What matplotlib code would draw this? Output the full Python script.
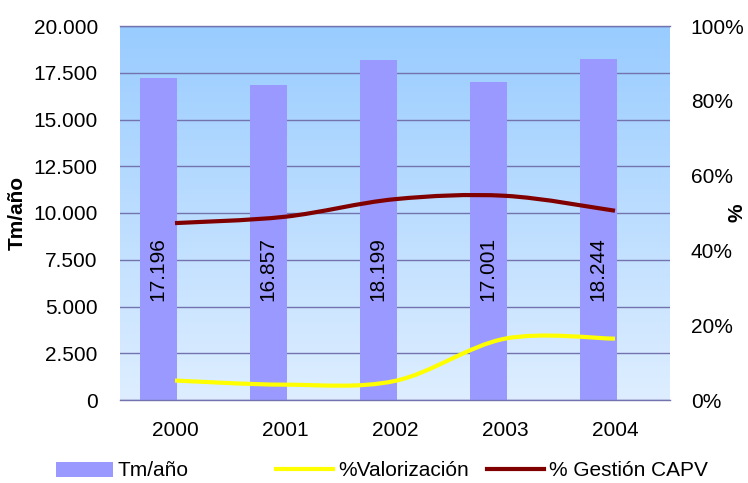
import numpy as np
import matplotlib
matplotlib.use("Agg")
import matplotlib.pyplot as plt
from matplotlib.path import Path
from matplotlib.patches import PathPatch, Patch
from matplotlib.lines import Line2D

plt.rcParams['font.family'] = ['Liberation Sans', 'DejaVu Sans']

# ---- data ----
years = ["2000", "2001", "2002", "2003", "2004"]
tm_ano = [17196, 16857, 18199, 17001, 18244]
tm_labels = ["17.196", "16.857", "18.199", "17.001", "18.244"]
pct_valorizacion = [0.052, 0.041, 0.051, 0.164, 0.164]
pct_gestion = [0.473, 0.490, 0.537, 0.546, 0.506]
left_ticks = [0, 2500, 5000, 7500, 10000, 12500, 15000, 17500, 20000]
left_ticklabels = ["0", "2.500", "5.000", "7.500", "10.000", "12.500", "15.000", "17.500", "20.000"]
right_ticks = [0, 0.2, 0.4, 0.6, 0.8, 1.0]
right_ticklabels = ["0%", "20%", "40%", "60%", "80%", "100%"]

BAR_C = '#9999FF'
GRID_C = '#7373AE'
FS = 15

fig = plt.figure(figsize=(7.48, 4.83), dpi=100)
ax = fig.add_axes([120/748, 83/483, 550/748, 374/483])
ax2 = ax.twinx()

x = np.arange(len(years))

# gradient background
grad = np.linspace(0, 1, 256).reshape(-1, 1)
top = np.array([153, 204, 255]) / 255
bot = np.array([222, 238, 255]) / 255
img = bot[None, None, :] * (1 - grad[:, :, None]) + top[None, None, :] * grad[:, :, None]
ax.imshow(img, extent=[0, 1, 0, 1], transform=ax.transAxes, origin='lower',
          aspect='auto', zorder=-10)

ax.bar(x - 0.32, tm_ano, width=0.335, align='edge', color=BAR_C, zorder=2)
for xi, lab in zip(x, tm_labels):
    ax.text(xi - 0.32 + 0.335 / 2, 7000, lab, rotation=90, ha='center', va='center',
            fontsize=FS, color='black', zorder=3)

ax.set_xlim(-0.5, len(years) - 0.5)
ax.set_ylim(0, 20000)
ax.set_yticks(left_ticks)
ax.set_yticklabels(left_ticklabels)
ax.set_xticks(x)
ax.set_xticklabels(years)
ax.grid(axis='y', color=GRID_C, linewidth=1)
ax.set_axisbelow(True)
ax.tick_params(axis='both', length=0, labelsize=FS)
ax.tick_params(axis='y', pad=16)
ax.tick_params(axis='x', pad=15)
for s in ['left', 'right']:
    ax.spines[s].set_visible(False)
for s in ['top', 'bottom']:
    ax.spines[s].set_color(GRID_C)
    ax.spines[s].set_linewidth(1)
ax.set_ylabel("Tm/año", fontsize=FS, fontweight='bold')
ax.yaxis.set_label_coords(-0.169, 0.5)

# smoothed lines (Catmull-Rom style Bezier like Excel)
def smooth_path(xs, ys):
    pts = np.column_stack([xs, ys]).astype(float)
    n = len(pts)
    verts = [pts[0]]
    codes = [Path.MOVETO]
    for i in range(n - 1):
        p0 = pts[i - 1] if i > 0 else pts[i]
        p1 = pts[i]
        p2 = pts[i + 1]
        p3 = pts[i + 2] if i + 2 < n else pts[i + 1]
        c1 = p1 + (p2 - p0) / 6
        c2 = p2 - (p3 - p1) / 6
        verts += [c1, c2, p2]
        codes += [Path.CURVE4] * 3
    return Path(verts, codes)

for vals, col in [(pct_valorizacion, '#FFFF00'), (pct_gestion, '#800000')]:
    pp = PathPatch(smooth_path(x, vals), facecolor='none', edgecolor=col,
                   linewidth=3.0, capstyle='butt', transform=ax2.transData, zorder=5)
    ax2.add_patch(pp)

ax2.set_ylim(0, 1)
ax2.set_yticks(right_ticks)
ax2.set_yticklabels(right_ticklabels)
ax2.tick_params(axis='y', length=0, labelsize=FS, pad=15)
for s in ax2.spines.values():
    s.set_visible(False)
ax2.set_ylabel("%", fontsize=FS, fontweight='bold', rotation=90)
ax2.yaxis.set_label_coords(1.104, 0.5)

# legend (three separate entries positioned like the reference)
entries = [
    (Patch(facecolor=BAR_C, edgecolor='none'), "Tm/año", 56),
    (Line2D([], [], color='#FFFF00', linewidth=3.0), "%Valorización", 276),
    (Line2D([], [], color='#800000', linewidth=3.0), "% Gestión CAPV", 487),
]
for h, lab, px in entries:
    fig.legend([h], [lab], loc='center left', bbox_to_anchor=(px / 748, 1 - 471 / 483),
               frameon=False, fontsize=FS, handlelength=2.75, handleheight=0.72,
               handletextpad=0.22, borderpad=0, borderaxespad=0)

fig.savefig("out.png", dpi=100)
